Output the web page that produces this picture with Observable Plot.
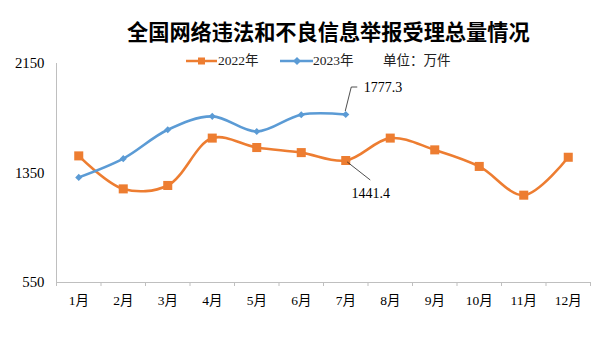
<!DOCTYPE html>
<html>
<head>
<meta charset="utf-8">
<script src="https://cdn.jsdelivr.net/npm/d3@7"></script>
<script src="https://cdn.jsdelivr.net/npm/@observablehq/plot@0.6"></script>
<style>
  body { margin: 0; background: #fff; }
  #wrap { position: relative; width: 600px; height: 337px; overflow: hidden; }
  #title { position: absolute; left: 127px; top: 17px; font-family: "Noto Sans CJK SC", sans-serif; font-weight: bold; font-size: 21.2px; line-height: 28px; color: #000; white-space: nowrap; }
  .leg { position: absolute; top: 51px; font-family: "Liberation Serif", "Noto Sans CJK SC", serif; font-size: 13.5px; line-height: 20px; color: #222; white-space: nowrap; }
  .sw { position: absolute; top: 53px; }
  #chart { position: absolute; left: 0; top: 0; }
</style>
</head>
<body>
<div id="wrap">
  <div id="chart"></div>
  <div id="title">全国网络违法和不良信息举报受理总量情况</div>
  <svg class="sw" style="left:186px" width="32" height="16"><line x1="0" x2="31" y1="8" y2="8" stroke="#ED7D31" stroke-width="2.5"/><rect x="12" y="4.5" width="7" height="7" fill="#ED7D31"/></svg>
  <div class="leg" style="left:218px">2022年</div>
  <svg class="sw" style="left:280px" width="34" height="16"><line x1="0" x2="33" y1="8" y2="8" stroke="#5B9BD5" stroke-width="2.5"/><path d="M17,4 L21,8 L17,12 L13,8 Z" fill="#5B9BD5"/></svg>
  <div class="leg" style="left:313px">2023年</div>
  <div class="leg" style="left:383px">单位：万件</div>
</div>
<script>
const months = ["1月","2月","3月","4月","5月","6月","7月","8月","9月","10月","11月","12月"];
const series = ["2022年", "2023年"];
const values2022 = [1475, 1234, 1259, 1605, 1536, 1499, 1441.4, 1605, 1519, 1398, 1188, 1465];
const values2023 = [1318, 1455, 1666, 1764, 1653, 1776, 1777.3];
const yTicks = [550, 1350, 2150];
const colors = ["#ED7D31", "#5B9BD5"];

const rows2022 = values2022.map((v, i) => ({m: i + 1, v, s: series[0]}));
const rows2023 = values2023.map((v, i) => ({m: i + 1, v, s: series[1]}));
const boundaries = d3.range(0, months.length + 1).map(i => i + 0.5);
const monthIdx = months.map((_, i) => i + 1);

const last2022 = rows2022[6];
const last2023 = rows2023[rows2023.length - 1];

function leaders(index, scales) {
  const g = d3.create("svg:g").attr("fill", "none").attr("stroke", "#222").attr("stroke-width", 0.8);
  const ax = scales.x(last2023.m), ay = scales.y(last2023.v);
  g.append("path").attr("d", `M${ax},${ay - 3}L${ax + 6},${ay - 27}L${ax + 12},${ay - 27}`);
  const bx = scales.x(last2022.m), by = scales.y(last2022.v);
  g.append("path").attr("d", `M${bx + 2},${by + 2}L${bx + 25},${by + 20}`);
  return g.node();
}

const font = "'Liberation Serif', 'Noto Sans CJK SC', serif";
const chart = Plot.plot({
  width: 600,
  height: 337,
  marginTop: 63,
  marginBottom: 55,
  marginLeft: 56,
  marginRight: 10,
  style: {fontFamily: font, background: "transparent", color: "#000"},
  x: {domain: [0.5, months.length + 0.5], axis: null, label: null},
  y: {domain: [550, 2150], axis: null, label: null},
  color: {domain: series, range: colors},
  marks: [
    Plot.ruleX([0.5], {stroke: "#BFBFBF", strokeWidth: 1}),
    Plot.ruleY([550], {stroke: "#BFBFBF", strokeWidth: 1}),
    Plot.axisX({ticks: boundaries, tickFormat: () => "", tickSize: 4, stroke: "#BFBFBF", label: null}),
    Plot.axisX({ticks: monthIdx, tickFormat: d => months[d - 1], tickSize: 0, tickPadding: 13, fontSize: 13.5, fill: "#000", label: null}),
    Plot.axisY({ticks: yTicks, tickFormat: d => String(d), tickSize: 0, tickPadding: 12, fontSize: 14.8, fill: "#000", label: null}),
    Plot.line(rows2022, {x: "m", y: "v", stroke: "s", strokeWidth: 2.6, curve: "catmull-rom"}),
    Plot.dot(rows2022, {x: "m", y: "v", fill: "s", symbol: "square", r: 5.1, stroke: null}),
    Plot.line(rows2023, {x: "m", y: "v", stroke: "s", strokeWidth: 2.6, curve: "catmull-rom"}),
    Plot.dot(rows2023, {x: "m", y: "v", fill: "s", symbol: "diamond2", r: 3.2, stroke: null}),
    leaders,
    Plot.text([last2023], {x: "m", y: "v", text: d => d.v.toFixed(1), dx: 18, dy: -27, textAnchor: "start", fontSize: 14, fill: "#000", letterSpacing: "1px"}),
    Plot.text([last2022], {x: "m", y: "v", text: d => d.v.toFixed(1), dx: 25, dy: 33, textAnchor: "middle", fontSize: 14, fill: "#000", letterSpacing: "1px"})
  ]
});
document.getElementById("chart").appendChild(chart);
</script>
</body>
</html>
